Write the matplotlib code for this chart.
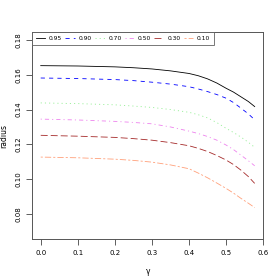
import matplotlib
matplotlib.use("Agg")
import matplotlib.pyplot as plt
import numpy as np

plt.rcParams['font.family'] = ['DejaVu Sans']
plt.rcParams['lines.scale_dashes'] = False

gamma = [0.0, 0.1, 0.2, 0.25, 0.3, 0.35, 0.4, 0.425, 0.45, 0.475, 0.5, 0.52, 0.54, 0.56, 0.577]
levels = ["0.95", "0.90", "0.70", "0.50", "0.30", "0.10"]
r95 = [0.1652, 0.1650, 0.1645, 0.1640, 0.1633, 0.1622, 0.1607, 0.1594, 0.1576, 0.1552, 0.1522, 0.1500, 0.1473, 0.1446, 0.1417]
r90 = [0.1581, 0.1578, 0.1572, 0.1566, 0.1557, 0.1546, 0.1531, 0.1518, 0.1503, 0.1486, 0.1465, 0.1440, 0.1408, 0.1375, 0.1341]
r70 = [0.1438, 0.1434, 0.1427, 0.1420, 0.1412, 0.1400, 0.1384, 0.1370, 0.1352, 0.1325, 0.1292, 0.1268, 0.1242, 0.1212, 0.1183]
r50 = [0.1345, 0.1340, 0.1332, 0.1326, 0.1318, 0.1300, 0.1276, 0.1262, 0.1245, 0.1224, 0.1196, 0.1170, 0.1138, 0.1106, 0.1077]
r30 = [0.1252, 0.1247, 0.1240, 0.1233, 0.1224, 0.1210, 0.1192, 0.1177, 0.1159, 0.1136, 0.1110, 0.1084, 0.1052, 0.1015, 0.0976]
r10 = [0.1127, 0.1123, 0.1115, 0.1108, 0.1098, 0.1082, 0.1060, 0.1035, 0.1008, 0.0978, 0.0947, 0.0920, 0.0890, 0.0862, 0.0837]
radii = [r95, r90, r70, r50, r30, r10]

colors = ["black", "blue", "lightgreen", "violet", "brown", "lightsalmon"]
dashes = [(None, None), (3, 3), (0.8, 2.2), (0.8, 2.2, 3, 2.2), (5, 2.2), (1.5, 1.5, 4.5, 1.5)]

fig = plt.figure(figsize=(2.8, 2.8), dpi=100)
ax = fig.add_axes([0.115, 0.146, 0.825, 0.739])

for lab, r, c, d in zip(levels, radii, colors, dashes):
    line, = ax.plot(gamma, r, color=c, lw=0.6, label=lab)
    if d[0] is not None:
        line.set_dashes(d)

ax.set_xlim(-0.023, 0.6)
ax.set_ylim(0.0656, 0.1844)
ax.set_xticks([0.0, 0.1, 0.2, 0.3, 0.4, 0.5, 0.6])
ax.set_xticklabels(["0.0", "0.1", "0.2", "0.3", "0.4", "0.5", "0.6"])
ax.set_yticks([0.08, 0.10, 0.12, 0.14, 0.16, 0.18])
ax.set_yticklabels(["0.08", "0.10", "0.12", "0.14", "0.16", "0.18"],
                   rotation=90, va="center")
ax.tick_params(labelsize=5, length=4, width=0.6, color="#444444", pad=4)
for s in ax.spines.values():
    s.set_linewidth(0.7)
    s.set_color("#555555")

ax.set_xlabel("γ", fontsize=5.5, labelpad=8)
ax.set_ylabel("radius", fontsize=5.5, labelpad=5)

leg = ax.legend(loc="upper left", ncol=6, fontsize=4.3, frameon=True,
                fancybox=False, borderaxespad=0, handlelength=1.6,
                columnspacing=0.55, handletextpad=0.6, borderpad=0.6)
leg.get_frame().set_edgecolor("#555555")
leg.get_frame().set_linewidth(0.7)

fig.savefig("out.png", dpi=100)
